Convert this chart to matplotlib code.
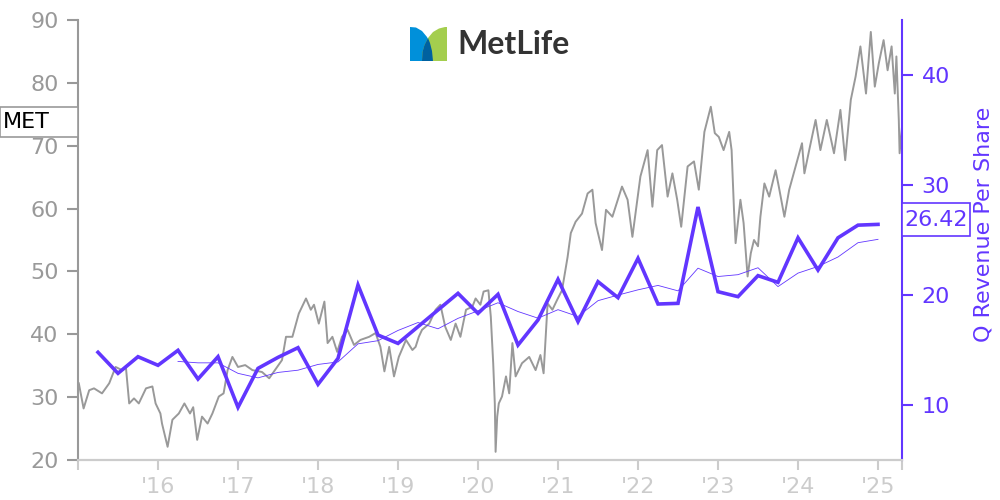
import numpy as np
import pandas as pd
import matplotlib
matplotlib.use("Agg")
import matplotlib.pyplot as plt
import matplotlib.transforms as mtransforms
from matplotlib.patches import Polygon, Rectangle

# MET share price (decimal year, USD)
price_t = [2015.01, 2015.07, 2015.14, 2015.20, 2015.30, 2015.39, 2015.47, 2015.55, 2015.60, 2015.64,
           2015.70, 2015.76, 2015.85, 2015.93, 2015.97, 2016.03, 2016.05, 2016.12, 2016.18, 2016.26,
           2016.33, 2016.40, 2016.44, 2016.49, 2016.55, 2016.62, 2016.68, 2016.76, 2016.82, 2016.87,
           2016.93, 2017.00, 2017.09, 2017.18, 2017.30, 2017.39, 2017.49, 2017.55, 2017.60, 2017.68,
           2017.76, 2017.85, 2017.91, 2017.95, 2018.01, 2018.08, 2018.12, 2018.18, 2018.24, 2018.30,
           2018.37, 2018.45, 2018.53, 2018.64, 2018.72, 2018.78, 2018.83, 2018.89, 2018.95, 2019.01,
           2019.10, 2019.18, 2019.22, 2019.26, 2019.30, 2019.39, 2019.47, 2019.53, 2019.59, 2019.66,
           2019.72, 2019.78, 2019.85, 2019.93, 2019.97, 2020.03, 2020.07, 2020.13, 2020.16, 2020.19,
           2020.21, 2020.22, 2020.24, 2020.26, 2020.30, 2020.35, 2020.39, 2020.43, 2020.47, 2020.55,
           2020.64, 2020.72, 2020.78, 2020.82, 2020.87, 2020.93, 2020.99, 2021.05, 2021.12, 2021.16,
           2021.22, 2021.30, 2021.37, 2021.43, 2021.47, 2021.55, 2021.60, 2021.68, 2021.80, 2021.87,
           2021.93, 2022.03, 2022.12, 2022.18, 2022.24, 2022.30, 2022.37, 2022.43, 2022.49, 2022.54,
           2022.62, 2022.70, 2022.76, 2022.83, 2022.91, 2022.96, 2023.01, 2023.07, 2023.14, 2023.17,
           2023.20, 2023.22, 2023.28, 2023.32, 2023.37, 2023.41, 2023.45, 2023.50, 2023.53, 2023.58,
           2023.64, 2023.72, 2023.76, 2023.83, 2023.89, 2023.97, 2024.05, 2024.08, 2024.14, 2024.22,
           2024.28, 2024.36, 2024.45, 2024.53, 2024.59, 2024.66, 2024.72, 2024.78, 2024.85, 2024.91,
           2024.96, 2025.01, 2025.07, 2025.12, 2025.17, 2025.21, 2025.23, 2025.26, 2025.27, 2025.30]
price_v = [32.2, 28.2, 31.1, 31.4, 30.6, 32.2, 34.8, 34.3, 34.6, 29.0,
           29.8, 29.0, 31.4, 31.7, 29.0, 27.4, 25.8, 22.1, 26.4, 27.4,
           29.0, 27.4, 28.4, 23.2, 26.9, 25.8, 27.4, 30.1, 30.6, 34.3,
           36.4, 34.8, 35.1, 34.3, 34.0, 33.0, 34.8, 35.9, 39.6, 39.6,
           43.3, 45.7, 43.9, 44.7, 41.7, 45.2, 38.6, 39.6, 37.2, 39.6,
           40.7, 38.3, 39.1, 39.6, 40.2, 38.0, 34.1, 38.0, 33.3, 36.4,
           39.1, 37.5, 38.0, 39.6, 40.7, 41.7, 43.9, 44.7, 41.2, 39.1,
           41.7, 39.6, 43.9, 44.4, 45.7, 44.7, 46.8, 47.0, 42.8, 35.4,
           29.0, 21.3, 26.9, 29.0, 30.1, 33.3, 30.6, 38.6, 33.3, 35.4,
           36.4, 34.3, 36.7, 33.8, 44.9, 43.9, 45.5, 47.0, 52.3, 56.1,
           57.9, 59.2, 62.4, 63.0, 57.7, 53.4, 59.8, 58.7, 63.5, 61.4,
           55.5, 65.1, 69.3, 60.3, 69.3, 70.1, 61.9, 65.6, 61.4, 57.1,
           66.7, 67.5, 63.0, 72.2, 76.2, 72.0, 71.4, 69.3, 72.2, 69.3,
           59.8, 54.5, 61.4, 57.7, 49.2, 52.9, 55.0, 54.0, 58.7, 64.0,
           61.9, 66.1, 63.5, 58.7, 63.0, 66.7, 70.4, 65.6, 69.3, 74.1,
           69.3, 74.1, 68.8, 75.7, 67.7, 77.3, 81.0, 85.8, 78.3, 88.1,
           79.4, 83.1, 86.8, 82.0, 85.8, 78.3, 84.2, 74.1, 68.8, 73.0]

# quarterly revenue per share, Q1 2015 .. Q4 2024
rev_t = [2015.25 + 0.25 * i for i in range(40)]
rev_v = [14.79, 12.88, 14.39, 13.61, 14.97, 12.36, 14.39, 9.79, 13.33, 14.33,
         15.21, 11.88, 14.24, 20.91, 16.36, 15.60, 17.12, 18.64, 20.15, 18.33,
         20.06, 15.45, 17.73, 21.42, 17.58, 21.21, 19.76, 23.33, 19.18, 19.24,
         28.00, 20.30, 19.85, 21.76, 21.15, 25.20, 22.27, 25.20, 26.35, 26.42]

ticker = "MET"
year_ticks = list(range(2016, 2026))
year_labels = ["'" + str(y)[2:] for y in year_ticks]

PURPLE = "#6236ff"
GRAY = "#999999"
LIGHT = "#cccccc"
FS = 16

# trailing 4-quarter average (drawn from the 5th quarter on, as in the source)
rev_ttm = pd.Series(rev_v).rolling(4).mean().to_numpy()
rev_ttm[:4] = np.nan

fig = plt.figure(figsize=(10, 5), dpi=100)
ax = fig.add_axes([0.078, 0.08, 0.824, 0.88])
ax2 = ax.twinx()

ax.plot(price_t, price_v, color=GRAY, lw=1.4, zorder=2)
ax.set_xlim(2015.0, 2025.3)
ax.set_ylim(20, 90)
ax.set_yticks([20, 30, 40, 50, 60, 70, 80, 90])

ax2.plot(rev_t, rev_v, color=PURPLE, lw=2.6, solid_joinstyle="miter")
ax2.plot(rev_t, rev_ttm, color=PURPLE, lw=0.6)
ax2.set_ylim(5, 45)
ax2.set_yticks([10, 20, 30, 40])

ax.set_xticks([2015.0] + year_ticks + [2025.3])
ax.set_xticklabels([""] + year_labels + [""])

for a in (ax, ax2):
    a.spines["top"].set_visible(False)
    a.spines["bottom"].set_color(LIGHT)
    a.spines["bottom"].set_linewidth(1.5)
ax.spines["right"].set_visible(False)
ax.spines["left"].set_color(GRAY)
ax.spines["left"].set_linewidth(1.5)
ax2.spines["left"].set_visible(False)
ax2.spines["right"].set_color(PURPLE)
ax2.spines["right"].set_linewidth(1.5)

ax.tick_params(axis="y", colors=GRAY, labelsize=FS, length=8, width=1.5, pad=6)
ax.tick_params(axis="x", colors=LIGHT, labelsize=FS, length=7, width=1.5, pad=5)
ax2.tick_params(axis="y", colors=PURPLE, labelsize=FS, length=8, width=1.5, pad=6)
fig.text(0.983, 0.552, "Q Revenue Per Share", color=PURPLE, fontsize=FS,
         rotation=90, ha="center", va="center")

# last-value boxes
tr_left = mtransforms.blended_transform_factory(fig.transFigure, ax.transData)
met_y = price_v[-1] + 0.8
ax.add_patch(Rectangle((0.0, met_y - 2.4), 0.078, 4.8, transform=tr_left,
                       facecolor="white", edgecolor=GRAY, lw=1.2, clip_on=False, zorder=5))
ax.text(0.003, met_y, ticker, transform=tr_left, fontsize=FS, color="black",
        va="center", ha="left", zorder=6)

tr_right = mtransforms.blended_transform_factory(fig.transFigure, ax2.transData)
rev_y = rev_v[-1] + 0.4
ax2.add_patch(Rectangle((0.902, rev_y - 1.5), 0.068, 3.0, transform=tr_right,
                        facecolor="white", edgecolor=PURPLE, lw=1.2, clip_on=False, zorder=5))
ax2.text(0.904, rev_y, f"{rev_v[-1]:.2f}", transform=tr_right, fontsize=FS,
         color=PURPLE, va="center", ha="left", zorder=6)

# logo
def px(points):
    return [(x / 1000, 1 - y / 500) for x, y in points]

blue = [(410, 27), (416, 27.5), (422, 31), (427, 37), (430, 43), (432, 51), (433, 61), (410, 61)]
green = [(447, 27), (447, 61), (422, 61), (422.5, 52), (424.5, 45), (428, 38), (433, 32), (439, 28.5), (445, 27)]
dark = [(428, 38), (430, 43), (432, 51), (433, 61), (422, 61), (422.5, 52), (424.5, 45)]
for pts, col in ((blue, "#0090da"), (green, "#a4ce4e"), (dark, "#0061a0")):
    fig.patches.append(Polygon(px(pts), closed=True, facecolor=col, edgecolor="none",
                               transform=fig.transFigure))
fig.text(0.457, 1 - 45 / 500, "MetLife", fontsize=23, fontweight="bold", family="Lato",
         color="#333333", va="center", ha="left")

fig.savefig("out.png", dpi=100)
